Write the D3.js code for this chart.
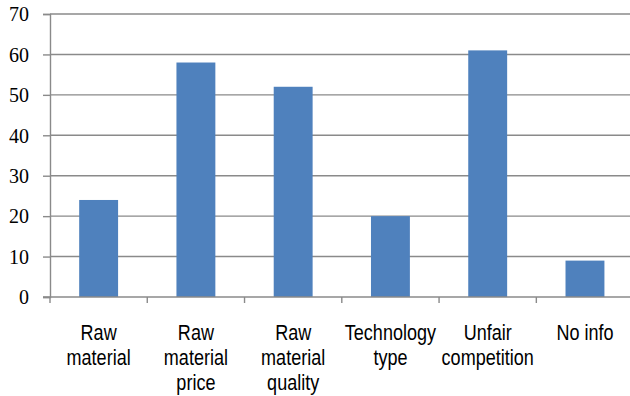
<!DOCTYPE html>
<html>
<head>
<meta charset="utf-8">
<script src="https://cdn.jsdelivr.net/npm/d3@7"></script>
<style>
  html, body { margin: 0; padding: 0; background: #fff; }
  svg { display: block; }
</style>
</head>
<body>
<svg id="chart" width="630" height="396"></svg>
<script>
// Responses by category
const categories = [
  ["Raw", "material"],
  ["Raw", "material", "price"],
  ["Raw", "material", "quality"],
  ["Technology", "type"],
  ["Unfair", "competition"],
  ["No info"]
];
const values = [24, 58, 52, 20, 61, 9];
const yTicks = [0, 10, 20, 30, 40, 50, 60, 70];

const svg = d3.select("#chart");
const plotLeft = 50, plotRight = 633.6, plotTop = 14, plotBottom = 297;

const x = d3.scaleBand()
  .domain(d3.range(categories.length))
  .range([plotLeft, plotRight])
  .paddingInner(0.6)
  .paddingOuter(0.3);

const y = d3.scaleLinear().domain([0, 70]).range([plotBottom, plotTop]);

// horizontal gridlines
svg.append("g")
  .selectAll("line")
  .data(yTicks.filter(d => d > 0))
  .join("line")
  .attr("x1", plotLeft).attr("x2", 630)
  .attr("y1", d => y(d)).attr("y2", d => y(d))
  .attr("stroke", "#8a8a8a")
  .attr("stroke-width", 1.4);

// bars
svg.append("g")
  .selectAll("rect")
  .data(values)
  .join("rect")
  .attr("x", (d, i) => x(i))
  .attr("width", x.bandwidth())
  .attr("y", d => y(d))
  .attr("height", d => y(0) - y(d))
  .attr("fill", "#4f81bd");

// y axis
const yAxis = svg.append("g")
  .attr("transform", `translate(${plotLeft},0)`)
  .call(d3.axisLeft(y).tickValues(yTicks).tickSize(7).tickPadding(14));
yAxis.select(".domain").attr("stroke", "#8a8a8a").attr("stroke-width", 1.4);
yAxis.selectAll(".tick line").attr("stroke", "#8a8a8a").attr("stroke-width", 1.4);
yAxis.selectAll("text")
  .style("font-family", "'Liberation Serif', 'DejaVu Serif', serif")
  .style("font-size", "20px")
  .attr("fill", "#000")
  .attr("dy", "0.34em");

// x axis baseline with category separators
const step = x.step();
const edges = d3.range(categories.length + 1).map(i => plotLeft + i * step);
svg.append("line")
  .attr("x1", plotLeft - 7).attr("x2", 630)
  .attr("y1", plotBottom).attr("y2", plotBottom)
  .attr("stroke", "#8a8a8a").attr("stroke-width", 1.6);
svg.append("g")
  .selectAll("line")
  .data(edges)
  .join("line")
  .attr("x1", d => d).attr("x2", d => d)
  .attr("y1", plotBottom).attr("y2", plotBottom + 6)
  .attr("stroke", "#8a8a8a").attr("stroke-width", 1.4);

// category labels, horizontally condensed
const labels = svg.append("g")
  .style("font-family", "'Liberation Sans', Arial, sans-serif")
  .attr("font-size", 22)
  .attr("fill", "#000")
  .attr("text-anchor", "middle");
categories.forEach((lines, i) => {
  const t = labels.append("text")
    .attr("transform", `translate(${x(i) + x.bandwidth() / 2},340) scale(0.82,1)`);
  lines.forEach((ln, j) => {
    t.append("tspan")
      .attr("x", 0)
      .attr("y", j * 25)
      .text(ln);
  });
});
</script>
</body>
</html>
